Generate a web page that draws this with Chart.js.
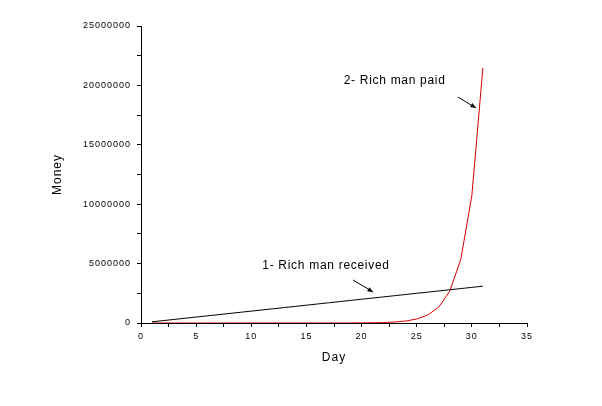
<!DOCTYPE html>
<html lang="en">
<head>
    <meta charset="UTF-8">
    <title>Rich man received vs paid</title>
    <script src="https://cdn.jsdelivr.net/npm/chart.js"></script>
    <style>
        body {
            margin: 0;
            background-color: #ffffff;
        }
        #wrap {
            width: 602px;
            height: 406px;
        }
    </style>
</head>
<body>

<div id="wrap">
    <canvas id="chart" width="602" height="406"></canvas>
</div>

<script>
    // Day numbers
    const days = [1, 2, 3, 4, 5, 6, 7, 8, 9, 10, 11, 12, 13, 14, 15, 16,
                  17, 18, 19, 20, 21, 22, 23, 24, 25, 26, 27, 28, 29, 30, 31];

    // 1- Rich man received (cumulative)
    const received = [100000, 200000, 300000, 400000, 500000, 600000, 700000, 800000,
                      900000, 1000000, 1100000, 1200000, 1300000, 1400000, 1500000, 1600000,
                      1700000, 1800000, 1900000, 2000000, 2100000, 2200000, 2300000, 2400000,
                      2500000, 2600000, 2700000, 2800000, 2900000, 3000000, 3100000];

    // 2- Rich man paid (cumulative)
    const paid = [0.01, 0.03, 0.07, 0.15, 0.31, 0.63, 1.27, 2.55, 5.11, 10.23, 20.47,
                  40.95, 81.91, 163.83, 327.67, 655.35, 1310.71, 2621.43, 5242.87,
                  10485.75, 20971.51, 41943.03, 83886.07, 167772.15, 335544.31,
                  671088.63, 1342177.27, 2684354.55, 5368709.11, 10737418.23, 21474836.47];

    // labels placed on the plot (day, money)
    const notes = [
        { text: '2- Rich man paid', x: 23.0, y: 20370000,
          arrow: [28.74, 19020000, 30.37, 18100000] },
        { text: '1- Rich man received', x: 16.77, y: 4800000,
          arrow: [19.22, 3620000, 21.04, 2610000] }
    ];

    Chart.defaults.font.family = 'Arial, "Liberation Sans", sans-serif';
    Chart.defaults.color = '#000000';

    const spacing = {
        id: 'spacing',
        beforeDraw(chart) { chart.ctx.letterSpacing = '1px'; },
        afterDraw(chart) { chart.ctx.letterSpacing = '0px'; }
    };

    const noteDraw = {
        id: 'noteDraw',
        afterDatasetsDraw(chart) {
            const ctx = chart.ctx;
            const xs = chart.scales.x, ys = chart.scales.y;
            ctx.save();
            ctx.letterSpacing = '0.7px';
            ctx.font = '12px Arial, "Liberation Sans", sans-serif';
            ctx.fillStyle = '#000';
            ctx.strokeStyle = '#000';
            ctx.textAlign = 'center';
            ctx.textBaseline = 'middle';
            notes.forEach(n => {
                ctx.fillText(n.text, xs.getPixelForValue(n.x), ys.getPixelForValue(n.y));
                const x1 = xs.getPixelForValue(n.arrow[0]), y1 = ys.getPixelForValue(n.arrow[1]);
                const x2 = xs.getPixelForValue(n.arrow[2]), y2 = ys.getPixelForValue(n.arrow[3]);
                const a = Math.atan2(y2 - y1, x2 - x1);
                ctx.lineWidth = 1;
                ctx.beginPath();
                ctx.moveTo(x1, y1);
                ctx.lineTo(x2, y2);
                ctx.stroke();
                ctx.beginPath();
                ctx.moveTo(x2, y2);
                ctx.lineTo(x2 - 6 * Math.cos(a - 0.4), y2 - 6 * Math.sin(a - 0.4));
                ctx.lineTo(x2 - 6 * Math.cos(a + 0.4), y2 - 6 * Math.sin(a + 0.4));
                ctx.closePath();
                ctx.fill();
            });
            ctx.restore();
        }
    };

    new Chart(document.getElementById('chart').getContext('2d'), {
        type: 'line',
        data: {
            labels: days,
            datasets: [{
                label: '1- Rich man received',
                data: received,
                borderColor: '#000000',
                borderWidth: 1,
                pointRadius: 0,
                tension: 0
            }, {
                label: '2- Rich man paid',
                data: paid,
                borderColor: '#d40000',
                borderWidth: 1,
                pointRadius: 0,
                tension: 0
            }]
        },
        options: {
            responsive: false,
            animation: false,
            layout: { padding: { left: 0, top: 26, right: 75, bottom: 0 } },
            plugins: {
                legend: { display: false },
                tooltip: { enabled: false }
            },
            scales: {
                x: {
                    type: 'linear',
                    min: 0,
                    max: 35,
                    afterFit: s => { s.height = 83; },
                    ticks: {
                        stepSize: 2.5,
                        padding: 4,
                        maxRotation: 0,
                        autoSkip: false,
                        font: { size: 9 },
                        callback: v => (v % 5 === 0 ? String(v) : '')
                    },
                    grid: { drawOnChartArea: false, tickLength: 4, color: '#000' },
                    border: { color: '#000', width: 1 },
                    title: {
                        display: true,
                        text: 'Day',
                        font: { size: 12 },
                        padding: { top: 0, bottom: 41 }
                    }
                },
                y: {
                    min: 0,
                    max: 25000000,
                    afterFit: s => { s.width = 141; },
                    ticks: {
                        stepSize: 2500000,
                        padding: 6,
                        autoSkip: false,
                        font: { size: 9 },
                        callback: v => (v % 5000000 === 0 ? String(v) : '')
                    },
                    grid: { drawOnChartArea: false, tickLength: 4, color: '#000' },
                    border: { color: '#000', width: 1 },
                    title: {
                        display: true,
                        text: 'Money',
                        font: { size: 12 },
                        padding: { top: 50, bottom: 0 }
                    }
                }
            }
        },
        plugins: [spacing, noteDraw]
    });
</script>

</body>
</html>
